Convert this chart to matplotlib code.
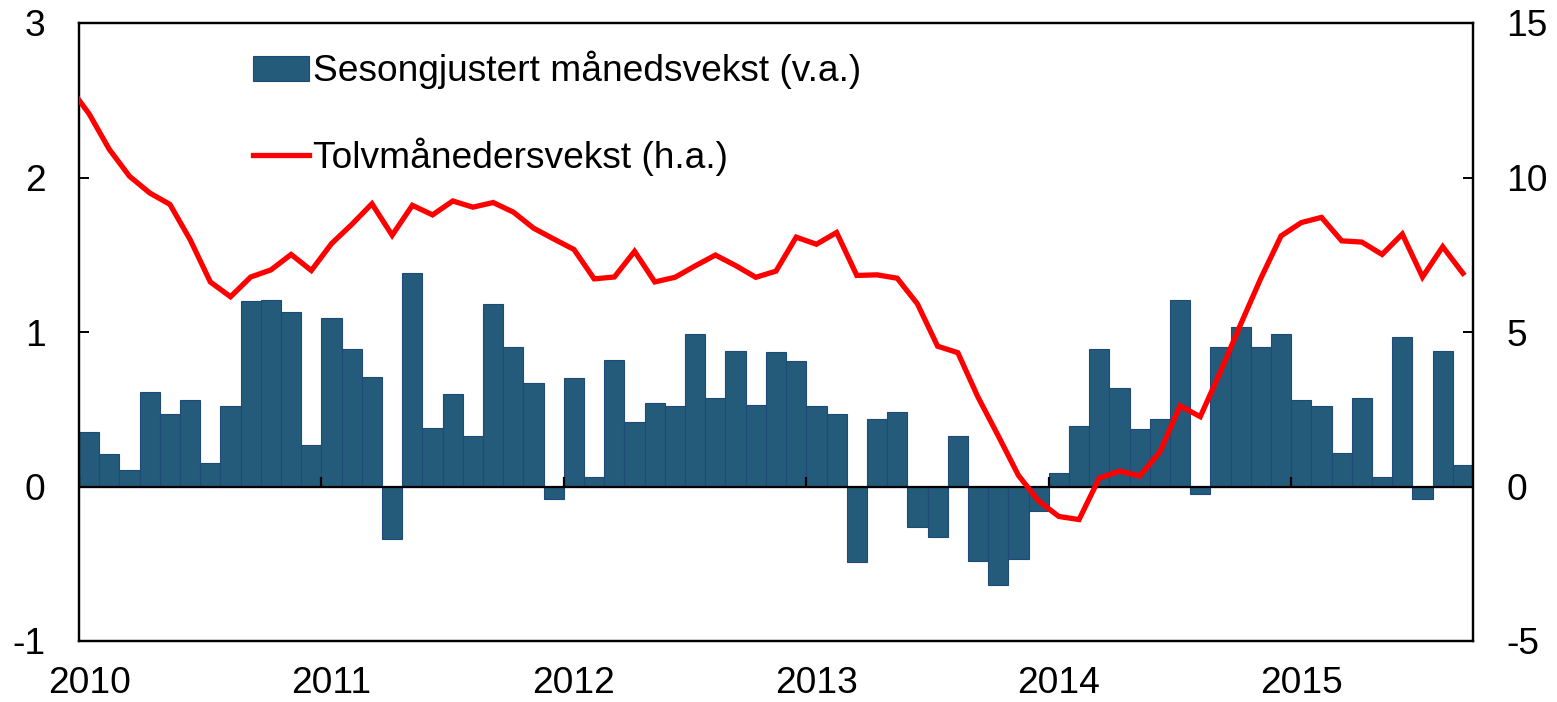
import numpy as np
import matplotlib
matplotlib.use("Agg")
import matplotlib.pyplot as plt

plt.rcParams['font.family'] = ['Liberation Sans', 'DejaVu Sans']

# month index 0 = Jan 2010 ... 68 = Sep 2015
years = ['2010', '2011', '2012', '2013', '2014', '2015']

# seasonally adjusted monthly growth, left axis (percent)
monthly = [0.35, 0.21, 0.11, 0.61, 0.47, 0.56, 0.15, 0.52, 1.20, 1.21, 1.13, 0.27,
           1.09, 0.89, 0.71, -0.34, 1.38, 0.38, 0.60, 0.33, 1.18, 0.90, 0.67, -0.08,
           0.70, 0.06, 0.82, 0.42, 0.54, 0.52, 0.99, 0.57, 0.88, 0.53, 0.87, 0.81,
           0.52, 0.47, -0.49, 0.44, 0.48, -0.26, -0.33, 0.33, -0.48, -0.64, -0.47, -0.16,
           0.09, 0.39, 0.89, 0.64, 0.37, 0.44, 1.21, -0.05, 0.90, 1.03, 0.90, 0.99,
           0.56, 0.52, 0.22, 0.57, 0.06, 0.97, -0.08, 0.88, 0.14]

# twelve-month growth, right axis (percent), first value is Dec 2009
twelve_month = [12.95,
                12.06, 10.91, 10.04, 9.50, 9.13, 7.99, 6.62, 6.14, 6.78, 7.01, 7.51, 6.99,
                7.86, 8.48, 9.15, 8.13, 9.10, 8.79, 9.24, 9.04, 9.19, 8.88, 8.36, 8.01,
                7.67, 6.72, 6.78, 7.61, 6.62, 6.77, 7.14, 7.49, 7.15, 6.77, 6.97, 8.07,
                7.84, 8.22, 6.83, 6.85, 6.74, 5.91, 4.54, 4.33, 2.89, 1.64, 0.36, -0.47,
                -0.97, -1.07, 0.27, 0.50, 0.34, 1.12, 2.61, 2.26, 3.72, 5.25, 6.74, 8.11,
                8.54, 8.71, 7.95, 7.91, 7.51, 8.17, 6.78, 7.76, 6.90]

bar_color = '#245a7a'
fs = 26.7

fig = plt.figure(figsize=(15.57, 7.02), dpi=100)
ax = fig.add_axes([79/1557, 1 - 641/702, (1473 - 79)/1557, (641 - 23)/702])
ax2 = ax.twinx()

n = len(monthly)
x = np.arange(n)
bars = ax.bar(x, monthly, width=1.0, align='edge', color=bar_color,
              edgecolor='#1f4a78', linewidth=0.8, zorder=2,
              label='Sesongjustert månedsvekst (v.a.)')
ax.axhline(0, color='black', lw=1.6, zorder=3)
ax.plot(np.arange(0, n, 12), np.zeros(len(years)), linestyle='none',
        marker=2, markersize=7, markeredgewidth=1.6, color='black', zorder=3)

xl = np.arange(-1, n) + 0.5
line, = ax2.plot(xl, twelve_month, color='#ff0000', lw=3.8, zorder=4,
                 solid_joinstyle='miter', label='Tolvmånedersvekst (h.a.)')

ax.set_xlim(0, n)
ax.set_ylim(-1, 3)
ax2.set_ylim(-5, 15)
ax.set_yticks([-1, 0, 1, 2, 3])
ax.set_yticklabels(['-1', '0', '1', '2', '3'])
ax2.set_yticks([-5, 0, 5, 10, 15])
ax2.set_yticklabels(['-5', '0', '5', '10', '15'])

ax.set_xticks(np.arange(0, n, 12) + 0.5)
ax.set_xticklabels(years)
ax.tick_params(axis='x', length=0, pad=18, labelsize=fs)
ax.tick_params(axis='y', direction='in', length=7, width=1.4, pad=24, labelsize=fs)
ax2.tick_params(axis='y', direction='in', length=7, width=1.4, pad=24, labelsize=fs)

for a in (ax, ax2):
    for s in a.spines.values():
        s.set_linewidth(1.6)

ax.set_zorder(1)
ax2.set_zorder(2)
ax.patch.set_visible(False)

fig.legend([bars, line], ['Sesongjustert månedsvekst (v.a.)', 'Tolvmånedersvekst (h.a.)'],
           loc='upper left', bbox_to_anchor=(253/1557, 1 - 51/702),
           frameon=False, fontsize=fs, handlelength=1.5, handleheight=0.68,
           handletextpad=0.12, labelspacing=1.3, borderpad=0, borderaxespad=0)

fig.savefig('out.png', dpi=100)
